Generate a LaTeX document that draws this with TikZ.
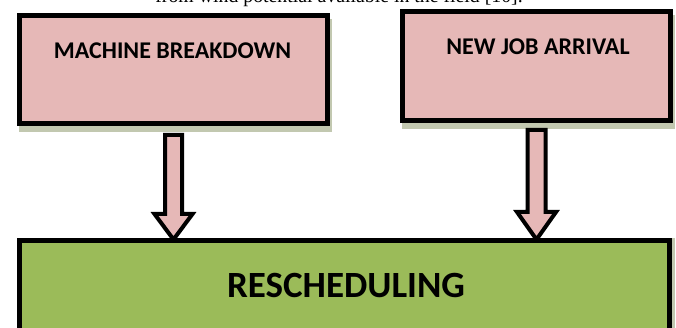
\documentclass[tikz,border=0pt]{standalone}
\usepackage{fontspec}
\setmainfont{Liberation Serif}
\newfontfamily\calibrifont{Carlito}
\usetikzlibrary{calc}
\definecolor{pinkfill}{HTML}{E6B8B7}
\definecolor{greenfill}{HTML}{9BBB59}
\definecolor{shadowc}{HTML}{C2C8B0}
\tikzset{
  boxbase/.style={draw=black, line width=5pt, inner sep=0pt,
    preaction={fill=shadowc, draw=shadowc, transform canvas={shift={(2pt,-6pt)}}}},
  pinkbox/.style={boxbase, fill=pinkfill},
  greenbox/.style={draw=black, line width=5pt, inner sep=0pt, fill=greenfill,
    preaction={fill=shadowc, draw=shadowc, transform canvas={shift={(3pt,0pt)}}}},
  boxlabel/.style={font=\calibrifont\bfseries\fontsize{24}{27}\selectfont, anchor=base, inner sep=0pt},
  biglabel/.style={font=\calibrifont\bfseries\fontsize{37}{40}\selectfont, anchor=base, inner sep=0pt},
  blockarrow/.style={draw=black, fill=pinkfill, line width=4pt, miter limit=10}
}
\begin{document}
\begin{tikzpicture}[x=1pt,y=-1pt]
\useasboundingbox (0,0) rectangle (676,328);
\clip (0,0) rectangle (676,328);
% cut-off text line at top
\node[font=\fontsize{19.8}{22}\selectfont, anchor=base, inner sep=0pt] (cut) at (339,3) {from wind potential available in the field [10].};
% boxes
\node[pinkbox, minimum width=308pt, minimum height=108pt] (mb) at (173.5,69.5) {};
\node[pinkbox, minimum width=268pt, minimum height=109pt] (nj) at (536.5,66) {};
\node[greenbox, minimum width=650pt, minimum height=104.5pt] (resc) at (344.5,292.75) {};
% labels
\node[boxlabel] (mbt) at (172.5,59) {MACHINE BREAKDOWN};
\node[boxlabel] (njt) at (538,55) {NEW JOB ARRIVAL};
\node[biglabel] (rest) at (346,297) {RESCHEDULING};
% block arrows
\draw[blockarrow] ($(mb.south)+(-8.5,9)$) -- ($(mb.south |- resc.north)+(-8.5,-24)$)
  -- ($(mb.south |- resc.north)+(-19,-24)$) -- ($(mb.south |- resc.north)+(0,1.5)$)
  -- ($(mb.south |- resc.north)+(19,-24)$) -- ($(mb.south |- resc.north)+(8.5,-24)$)
  -- ($(mb.south)+(8.5,9)$) -- cycle;
\draw[blockarrow] ($(nj.south)+(-9,7)$) -- ($(nj.south |- resc.north)+(-9,-26)$)
  -- ($(nj.south |- resc.north)+(-19.5,-26)$) -- ($(nj.south |- resc.north)+(0,1.5)$)
  -- ($(nj.south |- resc.north)+(19.5,-26)$) -- ($(nj.south |- resc.north)+(9,-26)$)
  -- ($(nj.south)+(9,7)$) -- cycle;
\end{tikzpicture}
\end{document}
